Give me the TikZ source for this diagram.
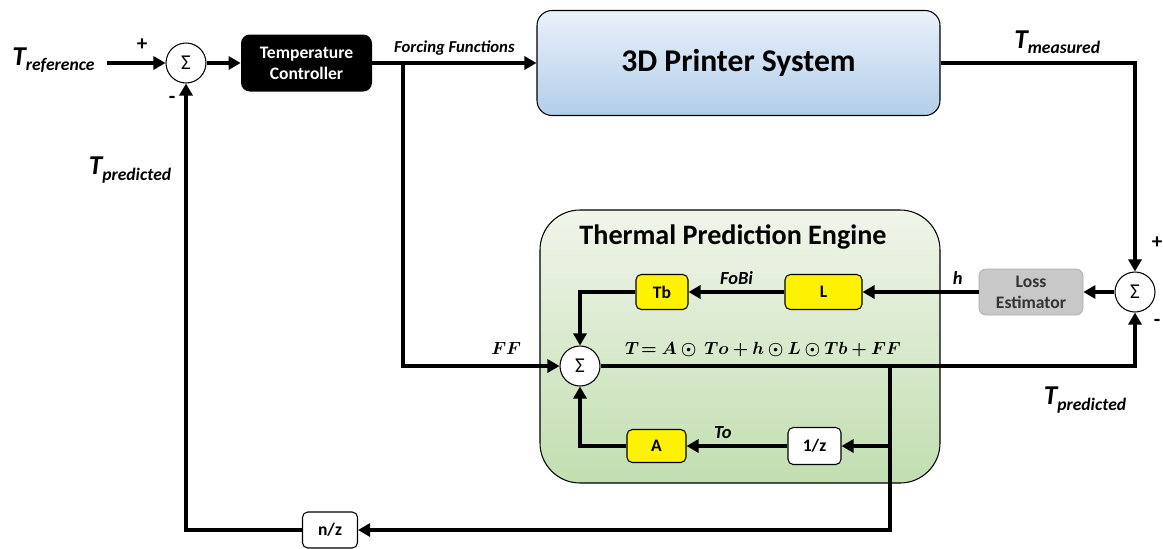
\documentclass[tikz,border=0pt]{standalone}
\usepackage{amsmath}
\usepackage{bm}
\usepackage{fontspec}
\setmainfont{Carlito}
\usetikzlibrary{shapes,arrows,arrows.meta,positioning,calc}
\definecolor{printertop}{RGB}{234,241,250}
\definecolor{printerblue}{RGB}{178,206,234}
\definecolor{enginetop}{RGB}{240,245,234}
\definecolor{enginegreen}{RGB}{194,222,176}
\definecolor{lossgray}{RGB}{200,200,200}
\definecolor{lossline}{RGB}{170,170,170}
\newcommand{\Tlab}[1]{{\fontsize{15.5}{17}\selectfont\bfseries\itshape T}\raisebox{-0.6ex}{\fontsize{10}{12}\selectfont\bfseries\itshape #1}}

\begin{document}
\begin{tikzpicture}[
    sumnode/.style={circle, draw, semithick, fill=white, minimum size=0.8cm, inner sep=0pt, font=\fontsize{12}{14}\selectfont},
    block/.style={rectangle, draw, semithick, rounded corners=3pt, minimum width=#1, minimum height=0.7cm, inner sep=1pt, font=\fontsize{10}{12}\selectfont\bfseries},
    gain/.style={block=#1, fill=yellow},
    delay/.style={block=#1, fill=white},
    label/.style={font=\fontsize{10.5}{12}\selectfont\bfseries\itshape},
    sign/.style={font=\fontsize{12}{14}\selectfont\bfseries},
    arrow/.style={-{Triangle[length=0.24cm, width=0.26cm]}, line width=2.2pt}
]
    \useasboundingbox (0,0) rectangle (23.26,-10.96);

    % Engine background
    \node[draw, semithick, rounded corners=0.8cm, top color=enginetop, bottom color=enginegreen,
          minimum width=8cm, minimum height=5.46cm] (engine) at (14.8,-6.93) {};
    \node[font=\fontsize{16}{18}\selectfont\bfseries] (enginetitle) at (14.66,-4.74) {Thermal Prediction Engine};

    % Main loop
    \node[label] (tref) at (1.07,-1.2) {\Tlab{reference}};
    \coordinate (in) at (2.14,-1.26);
    \node[sumnode] (sum1) at (3.72,-1.26) {Σ};
    \node[sign] (plus1) at (2.84,-0.9) {+};
    \node[sign] (minus1) at (3.44,-2.0) {-};
    \node[rectangle, fill=black, rounded corners=5pt, minimum width=2.62cm, minimum height=1.14cm,
          align=center, text=white, font=\fontsize{10}{12}\selectfont\bfseries] (ctrl) at (6.13,-1.26) {Temperature\\Controller};
    \node[draw, semithick, rounded corners=0.3cm, top color=printertop, bottom color=printerblue,
          minimum width=8.06cm, minimum height=2.1cm, font=\fontsize{18}{21}\selectfont\bfseries] (printer) at (14.77,-1.26) {3D Printer System};
    \draw[arrow] (in) -- (sum1);
    \draw[arrow] (sum1) -- (ctrl);
    \draw[arrow] (ctrl) -- node[above, font=\fontsize{9.5}{11}\selectfont\bfseries\itshape] {Forcing Functions} (printer);

    % Error path
    \node[sumnode] (sum3) at (22.7,-5.84) {Σ};
    \node[sign] (plus3) at (23.14,-4.86) {+};
    \node[sign] (minus3) at (23.14,-6.46) {-};
    \node[rectangle, draw=lossline, fill=lossgray, rounded corners=4pt, minimum width=2.08cm, minimum height=0.92cm,
          align=center, text=black!80, font=\fontsize{10}{12}\selectfont\bfseries] (loss) at (20.62,-5.84) {Loss\\Estimator};
    \draw[arrow] (printer) -| node[pos=0.3, above=1pt] {\Tlab{measured}} (sum3.north);
    \draw[arrow] (sum3) -- (loss);

    % Inside engine
    \node[gain=1.54cm] (L) at (16.47,-5.84) {L};
    \node[gain=1.04cm] (Tb) at (13.24,-5.84) {Tb};
    \node[sumnode] (sum2) at (11.6,-7.32) {Σ};
    \node[delay=1.06cm, minimum height=0.74cm] (onez) at (16.29,-8.92) {1/z};
    \node[gain=1.18cm, minimum height=0.66cm] (A) at (13.13,-8.92) {A};
    \node (eqn) at (15.26,-7.0) {$\bm{T\!= A \odot\ To + h \odot L \odot Tb + FF}$};
    \draw[arrow] (loss) -- node[label, pos=0.18, above] {h} (L);
    \draw[arrow] (L) -- node[label, above] {FoBi} (Tb);
    \draw[arrow] (Tb) -| (sum2);
    \coordinate (ffsplit) at (8.06,-1.26);
    \draw[arrow] (ffsplit) |- node[pos=0.83, above=2pt] {$\bm{FF}$} (sum2);
    \draw[arrow] (sum2) -| (sum3.south);
    \node[label] (tpred2) at (21.7,-8.0) {\Tlab{predicted}};
    \coordinate (split2) at (17.8,-7.32);
    \draw[arrow] (split2) |- (onez);
    \draw[arrow] (onez) -- node[label, pos=0.64, above] {To} (A);
    \draw[arrow] (A) -| (sum2);

    % Feedback
    \node[delay=1.1cm, minimum height=0.72cm] (nz) at (6.6,-10.6) {n/z};
    \draw[arrow] (split2) |- (nz);
    \draw[arrow] (nz) -| (sum1);
    \node[label] (tpred1) at (2.6,-3.4) {\Tlab{predicted}};
\end{tikzpicture}
\end{document}
